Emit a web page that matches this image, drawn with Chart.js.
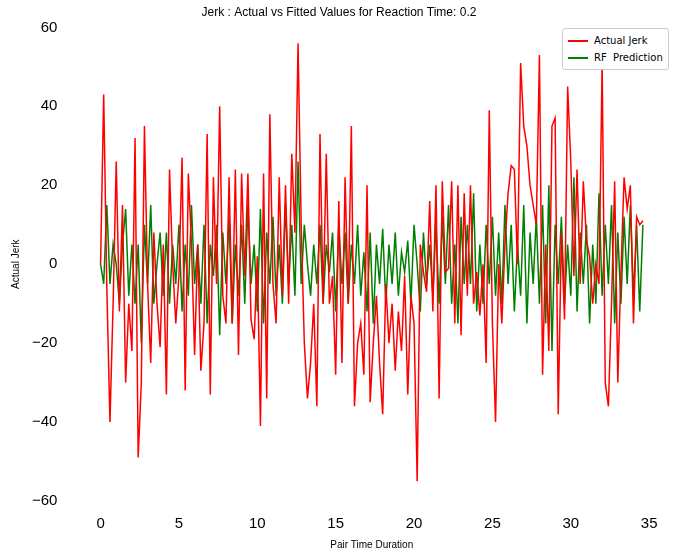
<!DOCTYPE html>
<html><head><meta charset="utf-8">
<script src="https://cdn.jsdelivr.net/npm/chart.js@4"></script>
<style>
body{margin:0;background:#fff;font-family:"DejaVu Sans",sans-serif}
#wrap{position:relative;width:680px;height:555px}
#legend{position:absolute;left:562px;top:28px;border:1px solid #ccc;border-radius:3px;background:#fff;padding:3px 5px;font-size:10px;line-height:17px}
#legend span{display:inline-block;width:20px;height:0;border-top:2px solid;vertical-align:middle;margin-right:6px}
</style></head>
<body><div id="wrap"><canvas id="c" width="680" height="555"></canvas>
<div id="legend"><div><span style="border-color:red"></span>Actual Jerk</div><div><span style="border-color:green"></span>RF&nbsp; Prediction</div></div></div>
<script>
// x positions: every 0.2 from 0 to 34.6
const step = 0.2;
const actualJerk = [0,43,-6,-40,-10,26,-12,15,-30,-10,-22,
32,-49,-30,35,-5,-25,8,-10,-21,5,
-33,24,0,-15,-3,27,-32,23,5,-23,
5,-27,-15,33,-33,22,-5,40,-8,-15,
22,-15,24,-23,23,-3,23,-14,-19,2,
-41,23,-34,38,-5,-15,22,-8,20,-10,
28,8,56,10,-20,-34,-25,-10,-36,33,
-10,28,-10,-3,-28,16,-25,22,-10,35,
-36,-20,-15,-28,20,-35,-20,-8,-25,-38,
-5,-20,-10,-27,-12,-22,-3,-33,-8,-15,
-55,5,-2,-7,16,-12,20,-34,21,-2,
-1,21,-15,20,-18,18,-8,20,-10,-2,
-13,0,-25,39,-15,-40,0,-15,5,18,
25,24,0,51,35,30,20,15,10,53,
-28,5,-22,35,37,-38,8,-14,45,26,
-3,24,-5,21,6,2,-10,0,-5,51,
-30,-36,-10,21,-30,-2,22,14,20,-15,
12,10,11];
const rfPrediction = [0,-5,15,-5,5,0,-10,5,14,-8,5,
-10,5,-20,10,-5,15,-10,0,8,-8,
8,-10,5,-5,10,-12,5,-8,15,-5,
5,-10,10,-15,5,-3,10,-18,8,-5,
12,-15,5,-8,10,-10,15,-5,5,-12,
14,-15,8,-5,12,-8,5,-10,15,-5,
10,-8,26,-5,10,0,-8,5,-5,10,
-10,5,-2,8,-12,10,-5,8,-10,5,
-5,10,-8,3,-12,8,-15,5,-5,9,
-10,5,-5,8,-8,3,-2,6,-10,10,
0,-12,8,-5,5,-8,10,-10,12,-5,
15,-10,5,-15,12,-5,10,-5,18,-12,
5,-10,10,-5,12,-8,8,-10,15,-5,
10,-12,5,-8,15,-15,8,-5,12,-10,
15,-15,20,-22,10,-5,12,-10,5,-8,
22,-12,8,-5,10,-15,5,-10,18,-8,
10,-5,15,-15,8,-10,12,-5,15,-8,
10,-12,10];
const xTicks = [0,5,10,15,20,25,30,35];
const yTicks = [-60,-40,-20,0,20,40,60];

const toPts = arr => arr.map((v, i) => ({x: +(i * step).toFixed(1), y: v}));
const minus = v => String(v).replace('-', '\u2212');

new Chart(document.getElementById('c'), {
  type: 'line',
  data: {
    datasets: [
      {label: 'Actual Jerk', data: toPts(actualJerk), borderColor: 'red', borderWidth: 1.5, pointRadius: 0, tension: 0},
      {label: 'RF  Prediction', data: toPts(rfPrediction), borderColor: 'green', borderWidth: 1.5, pointRadius: 0, tension: 0}
    ]
  },
  options: {
    responsive: false,
    animation: false,
    layout: {padding: {left: 8, right: 10, top: 0, bottom: 4}},
    plugins: {
      legend: {display: false},
      title: {display: true, text: 'Jerk : Actual vs Fitted Values for Reaction Time: 0.2', color: '#000', font: {size: 12, weight: 'normal'}, padding: {top: 5, bottom: 8}}
    },
    scales: {
      x: {
        type: 'linear', min: -1.73, max: 36.33,
        grid: {display: false}, border: {display: false},
        afterBuildTicks: s => { s.ticks = xTicks.map(v => ({value: v})); },
        ticks: {color: '#000', font: {size: 15}, padding: 6, callback: minus},
        title: {display: true, text: 'Pair Time Duration', color: '#000', font: {size: 10}, padding: 0}
      },
      y: {
        min: -60, max: 60,
        grid: {display: false}, border: {display: false},
        afterBuildTicks: s => { s.ticks = yTicks.map(v => ({value: v})); },
        ticks: {color: '#000', font: {size: 15}, padding: 8, callback: minus},
        title: {display: true, text: 'Actual Jerk', color: '#000', font: {size: 10}, padding: 2}
      }
    }
  }
});
</script></body></html>
